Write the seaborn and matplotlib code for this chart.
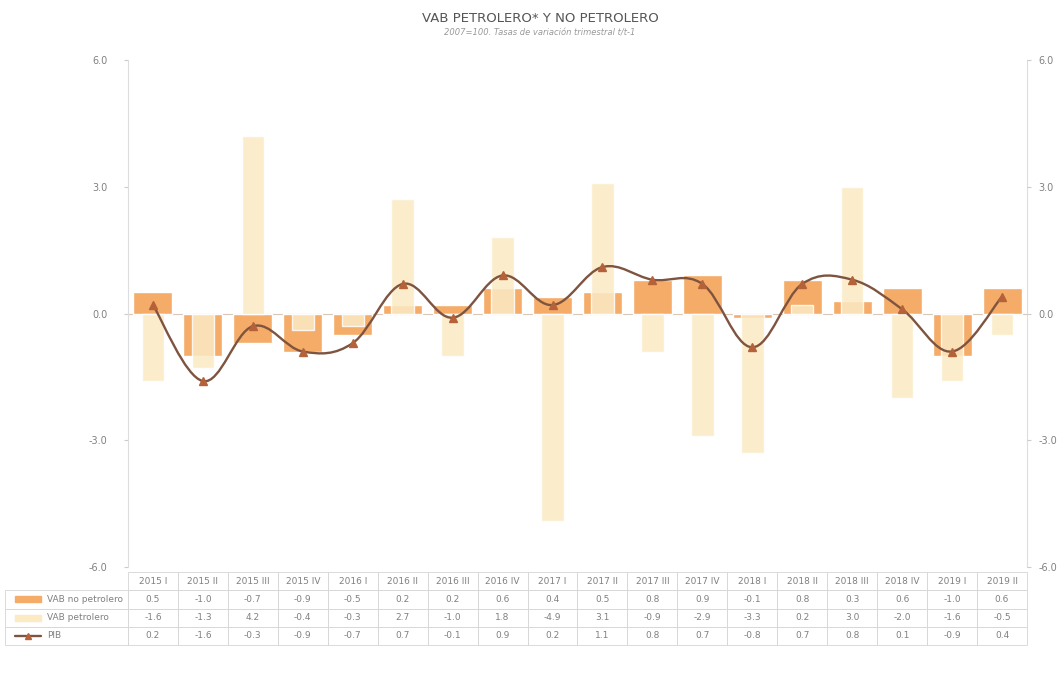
import numpy as np
import pandas as pd
import matplotlib
matplotlib.use("Agg")
import matplotlib.pyplot as plt
from matplotlib.path import Path
from matplotlib.patches import PathPatch, Rectangle
from matplotlib.lines import Line2D
import seaborn as sns

trimestres = ["2015 I", "2015 II", "2015 III", "2015 IV", "2016 I", "2016 II",
              "2016 III", "2016 IV", "2017 I", "2017 II", "2017 III", "2017 IV",
              "2018 I", "2018 II", "2018 III", "2018 IV", "2019 I", "2019 II"]
vab_no_petrolero = [0.5, -1.0, -0.7, -0.9, -0.5, 0.2, 0.2, 0.6, 0.4, 0.5, 0.8, 0.9,
                    -0.1, 0.8, 0.3, 0.6, -1.0, 0.6]
vab_petrolero = [-1.6, -1.3, 4.2, -0.4, -0.3, 2.7, -1.0, 1.8, -4.9, 3.1, -0.9, -2.9,
                 -3.3, 0.2, 3.0, -2.0, -1.6, -0.5]
pib = [0.2, -1.6, -0.3, -0.9, -0.7, 0.7, -0.1, 0.9, 0.2, 1.1, 0.8, 0.7,
       -0.8, 0.7, 0.8, 0.1, -0.9, 0.4]
y_ticks = [-6.0, -3.0, 0.0, 3.0, 6.0]

c_no_pet = "#F5AC68"
c_pet = "#FBEAC4"
c_pib = "#7E5440"
c_mark = "#B5623A"
c_txt = "#808080"

sns.set_style("white")
plt.rcParams["font.family"] = ["DejaVu Sans"]

df = pd.DataFrame({"trimestre": trimestres, "no_pet": vab_no_petrolero,
                   "pet": vab_petrolero, "pib": pib})

fig = plt.figure(figsize=(10.63, 6.74), dpi=100)
ax = fig.add_axes([128 / 1063, 1 - 567 / 674, 899 / 1063, 507 / 674])

sns.barplot(data=df, x="trimestre", y="no_pet", color=c_no_pet, saturation=1,
            width=0.78, ax=ax, zorder=2)
sns.barplot(data=df, x="trimestre", y="pet", color=c_pet, saturation=1,
            width=0.45, ax=ax, zorder=3, alpha=0.85)

ax.axhline(0, color="#D8C8B8", lw=0.8, zorder=1)

# curva suavizada del PIB (bezier entre los puntos)
x = np.arange(len(pib))
y = np.array(pib)
verts = [(x[0], y[0])]
codes = [Path.MOVETO]
t = 0.18
for i in range(len(x) - 1):
    p0 = np.array([x[max(i - 1, 0)], y[max(i - 1, 0)]])
    p1 = np.array([x[i], y[i]])
    p2 = np.array([x[i + 1], y[i + 1]])
    p3 = np.array([x[min(i + 2, len(x) - 1)], y[min(i + 2, len(x) - 1)]])
    c1 = p1 + (p2 - p0) * t
    c2 = p2 - (p3 - p1) * t
    verts += [tuple(c1), tuple(c2), tuple(p2)]
    codes += [Path.CURVE4] * 3
ax.add_patch(PathPatch(Path(verts, codes), fill=False, edgecolor=c_pib, lw=1.7, zorder=4))
ax.plot(x, y, linestyle="none", marker="^", ms=6, color=c_mark, zorder=5)

ax.set_xlim(-0.5, len(trimestres) - 0.5)
ax.set_ylim(-6, 6)
ax.set_yticks(y_ticks)
ax.set_yticklabels([f"{v:.1f}" for v in y_ticks], fontsize=7, color=c_txt)
ax.tick_params(axis="y", length=3, color="#CCCCCC", pad=12)
ax.set_xticks([])
ax.set_xlabel("")
ax.set_ylabel("")
for s in ["top", "bottom"]:
    ax.spines[s].set_visible(False)
for s in ["left", "right"]:
    ax.spines[s].set_color("#DDDDDD")

ax2 = ax.twinx()
ax2.set_ylim(-6, 6)
ax2.set_yticks(y_ticks)
ax2.set_yticklabels([f"{v:.1f}" for v in y_ticks], fontsize=7, color=c_txt)
ax2.tick_params(axis="y", length=3, color="#CCCCCC", pad=5)
for s in ax2.spines.values():
    s.set_visible(False)

fig.text(0.508, 0.972, "VAB PETROLERO* Y NO PETROLERO", ha="center", va="center",
         fontsize=9.5, color="#555555", family=["Liberation Sans Narrow", "DejaVu Sans"])
fig.text(0.508, 0.951, "2007=100. Tasas de variación trimestral t/t-1", ha="center",
         va="center", fontsize=6, color="#999999", style="italic")

# tabla de datos
row_names = ["VAB no petrolero", "VAB petrolero", "PIB"]
cells = [[""] + trimestres]
for name, serie in zip(row_names, [vab_no_petrolero, vab_petrolero, pib]):
    cells.append([name] + [f"{v:.1f}" for v in serie])
lab_w = 123 / 899
col_w = [lab_w] + [1 / 18] * 18
tab_top, tab_h = -0.01, 0.144
table = ax.table(cellText=cells, colWidths=col_w, cellLoc="center",
                 bbox=[-lab_w, tab_top - tab_h, 1 + lab_w, tab_h])
table.auto_set_font_size(False)
table.set_fontsize(6.5)
for (r, c), cell in table.get_celld().items():
    cell.set_edgecolor("#D5D5D5")
    cell.set_linewidth(0.6)
    cell.get_text().set_color(c_txt)
    if c == 0:
        cell._loc = "left"
        cell.PAD = 0.34
        cell.get_text().set_ha("left")
    if r == 0 and c == 0:
        cell.visible_edges = ""

# muestras de leyenda en la tabla
row_h = tab_h / 4
sw_x0 = -lab_w + 10 / 899
sw_w = 26 / 899
for k, color in enumerate([c_no_pet, c_pet]):
    yc = tab_top - row_h * (k + 1.5)
    ax.add_patch(Rectangle((sw_x0, yc - 0.006), sw_w, 0.012,
                           transform=ax.transAxes, color=color, clip_on=False, zorder=6))
yc = tab_top - row_h * 3.5
ax.add_line(Line2D([sw_x0, sw_x0 + sw_w], [yc, yc], transform=ax.transAxes,
                   color=c_pib, lw=1.7, clip_on=False, zorder=6))
ax.add_line(Line2D([sw_x0 + sw_w / 2], [yc], transform=ax.transAxes, marker="^", ms=5,
                   color=c_mark, clip_on=False, zorder=7))

plt.savefig("out.png", dpi=100)
